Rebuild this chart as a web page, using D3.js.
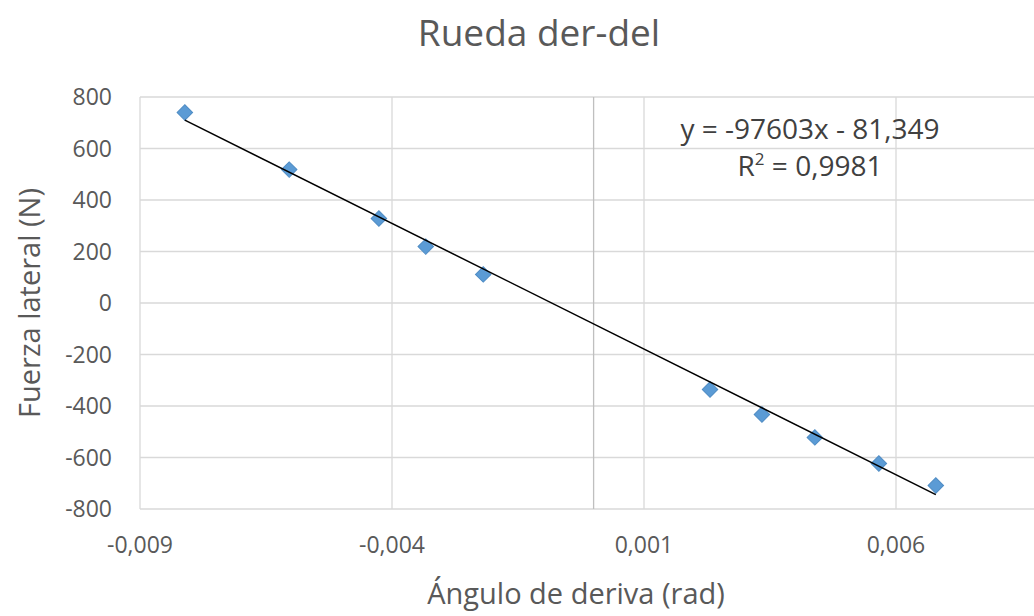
<!DOCTYPE html>
<html>
<head>
<meta charset="utf-8">
<script src="https://cdn.jsdelivr.net/npm/d3@7"></script>
<style>
  body { margin: 0; background: #fff; }
  svg { display: block; font-family: "Open Sans", "Noto Sans", sans-serif; }
</style>
</head>
<body>
<div id="chart"></div>
<script>
// slip angle (rad) vs lateral force (N), right-front wheel
const angles = [-0.00811, -0.00604, -0.00426, -0.00333, -0.00219, 0.00231, 0.00334, 0.00439, 0.00566, 0.00679];
const forces = [740, 518, 328, 219, 111, -336, -433, -522, -623, -709];

const xTicks = [-0.009, -0.004, 0.001, 0.006, 0.011];
const yTicks = [-800, -600, -400, -200, 0, 200, 400, 600, 800];

// trendline as reported by the spreadsheet
const slope = -97603;
const intercept = -81.349;
const eqLabel = 'y = -97603x - 81,349';
const r2Label = '0,9981';

const W = 1034, H = 616;
const plot = { left: 140, top: 97, right: 1148, bottom: 509 };

const fmt = d => d.toFixed(3).replace('.', ',');

function draw() {
  const svg = d3.select('#chart').append('svg')
    .attr('width', W)
    .attr('height', H);

  const x = d3.scaleLinear().domain([-0.009, 0.011]).range([plot.left, plot.right]);
  const y = d3.scaleLinear().domain([-800, 800]).range([plot.bottom, plot.top]);

  // horizontal grid
  svg.append('g')
    .selectAll('line')
    .data(yTicks)
    .join('line')
    .attr('x1', plot.left).attr('x2', W)
    .attr('y1', d => y(d)).attr('y2', d => y(d))
    .attr('stroke', '#d9d9d9').attr('stroke-width', 1.3);

  // vertical grid
  svg.append('g')
    .selectAll('line')
    .data(xTicks)
    .join('line')
    .attr('x1', d => x(d)).attr('x2', d => x(d))
    .attr('y1', plot.top).attr('y2', plot.bottom)
    .attr('stroke', '#d9d9d9').attr('stroke-width', 1.3);

  // vertical axis line at x = 0
  svg.append('line')
    .attr('x1', x(0)).attr('x2', x(0))
    .attr('y1', plot.top).attr('y2', plot.bottom)
    .attr('stroke', '#bfbfbf').attr('stroke-width', 1.3);

  // tick labels
  svg.append('g')
    .selectAll('text')
    .data(yTicks)
    .join('text')
    .attr('x', 112)
    .attr('y', d => y(d))
    .attr('dy', '0.35em')
    .attr('text-anchor', 'end')
    .attr('fill', '#595959')
    .attr('font-size', 23)
    .text(d => d);

  svg.append('g')
    .selectAll('text')
    .data(xTicks.filter(d => x(d) < W))
    .join('text')
    .attr('x', d => x(d))
    .attr('y', 553)
    .attr('text-anchor', 'middle')
    .attr('fill', '#595959')
    .attr('font-size', 23)
    .text(fmt);

  // points
  const pts = angles.map((a, i) => [a, forces[i]]);
  svg.append('g')
    .selectAll('path')
    .data(pts)
    .join('path')
    .attr('transform', d => `translate(${x(d[0])},${y(d[1])}) rotate(45)`)
    .attr('d', d3.symbol().type(d3.symbolSquare).size(120))
    .attr('fill', '#5b9bd5')
    .attr('stroke', '#4f8cc4')
    .attr('stroke-width', 1);

  // linear trendline across the data range
  const ext = d3.extent(angles);
  svg.append('line')
    .attr('x1', x(ext[0])).attr('y1', y(slope * ext[0] + intercept))
    .attr('x2', x(ext[1])).attr('y2', y(slope * ext[1] + intercept))
    .attr('stroke', '#000').attr('stroke-width', 1.5);

  // equation label
  svg.append('text')
    .attr('x', 810)
    .attr('y', 139)
    .attr('text-anchor', 'middle')
    .attr('fill', '#404040')
    .attr('font-size', 28)
    .text(eqLabel);

  const r2 = svg.append('text')
    .attr('x', 810)
    .attr('y', 176)
    .attr('text-anchor', 'middle')
    .attr('fill', '#404040')
    .attr('font-size', 28);
  r2.append('tspan').text('R');
  r2.append('tspan').attr('font-size', 17).attr('dy', -11).text('2');
  r2.append('tspan').attr('dy', 11).text(' = ' + r2Label);

  // titles
  svg.append('text')
    .attr('x', 539).attr('y', 46)
    .attr('text-anchor', 'middle')
    .attr('fill', '#595959')
    .attr('font-size', 37)
    .text('Rueda der-del');

  svg.append('text')
    .attr('x', 576).attr('y', 604)
    .attr('text-anchor', 'middle')
    .attr('fill', '#595959')
    .attr('font-size', 29)
    .text('Ángulo de deriva (rad)');

  svg.append('text')
    .attr('transform', `translate(40,${(plot.top + plot.bottom) / 2}) rotate(-90)`)
    .attr('text-anchor', 'middle')
    .attr('fill', '#595959')
    .attr('font-size', 29)
    .text('Fuerza lateral (N)');
}

document.addEventListener('DOMContentLoaded', draw);
</script>
</body>
</html>
